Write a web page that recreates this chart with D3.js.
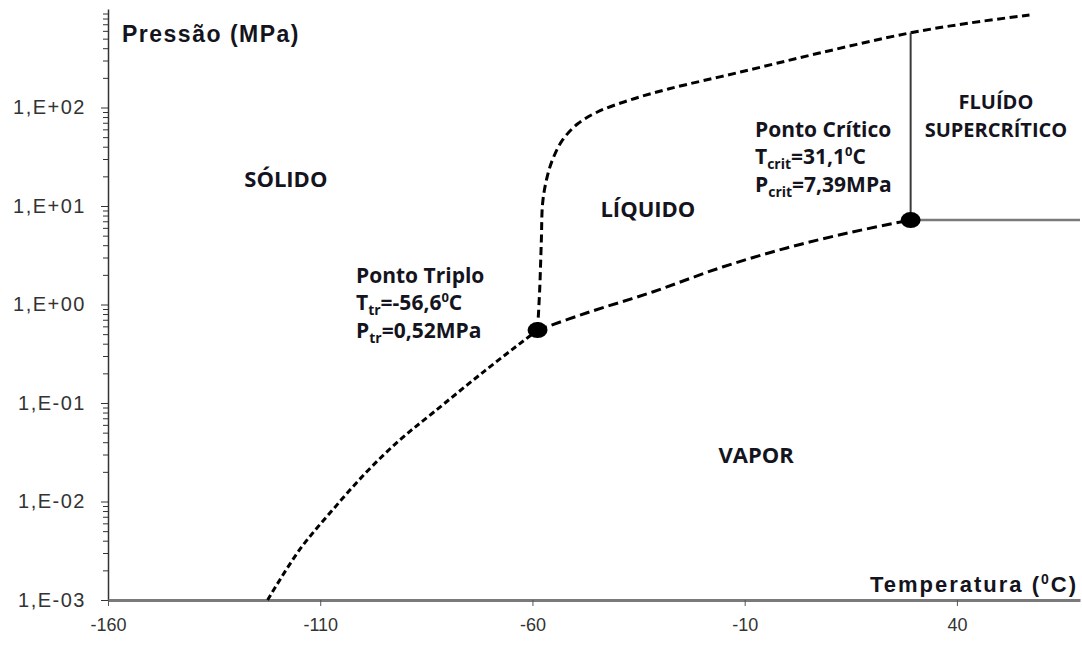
<!DOCTYPE html>
<html>
<head>
<meta charset="utf-8">
<script src="https://cdn.jsdelivr.net/npm/d3@7"></script>
<style>
  html, body { margin: 0; padding: 0; background: #fff; }
  svg { display: block; }
  .axis text { font-family: "Liberation Sans", Arial, sans-serif; fill: #333; }
  .lbl { font-family: "Open Sans", sans-serif; font-weight: 700; fill: #141420; }
</style>
</head>
<body>
<svg id="chart" width="1082" height="646"></svg>
<script>
// Diagrama de fases do CO2

// curva de sublimação (sólido / vapor)
const sublimationT = [-122.4, -114.9, -107.1, -99.1, -91.3, -83.5, -71.3, -58.8];
const sublimationP = [0.001, 0.00322, 0.0082, 0.0199, 0.042, 0.0791, 0.211, 0.55];

// curva de vaporização (líquido / vapor)
const vaporT = [-58.8, -47.3, -31.7, -15.9, -0.1, 15.4, 29.1];
const vaporP = [0.55, 0.82, 1.34, 2.35, 3.75, 5.45, 7.2];

// curva de fusão (sólido / líquido)
const meltT = [-58.8, -58.3, -57.9, -57.6, -56.7, -55.3, -52.9, -49.4, -44.7, -37.1, -28.0, -11.0, 7.6, 28.8, 43.0, 57.1];
const meltP = [0.55, 1.40, 4.52, 10.7, 18.4, 29.3, 46.8, 68.0, 90.0, 119, 154, 229, 357, 570, 721, 869];

// pontos notáveis (posição no gráfico)
const triplePoint = { t: -58.8, p: 0.55 };
const criticalPoint = { t: 29.1, p: 7.2 };
const criticalTop = 575;

const xTicks = [-160, -110, -60, -10, 40];
const yTicks = [1e-3, 1e-2, 1e-1, 1e0, 1e1, 1e2];
const xDomain = [-160, 69];
const yDomain = [1e-3, 1e3];

const regionLabels = [
    { lines: ['SÓLIDO'], t: -118.1, p: 15.6 },
    { lines: ['LÍQUIDO'], t: -32.8, p: 7.73 },
    { lines: ['VAPOR'], t: -7.3, p: 0.0246 },
    { lines: ['FLUÍDO', 'SUPERCRÍTICO'], t: 49.2, p: 97 }
];

const svg = d3.select('#chart');

const x = d3.scaleLinear().domain(xDomain).range([108, 108 + 229 * 4.2445]);
const y = d3.scaleLog().domain(yDomain).range([600, 9]);

// =========================================
// EIXOS
// =========================================

const fmtExp = d => {
    const e = Math.round(Math.log10(d));
    return '1,E' + (e < 0 ? '-' : '+') + String(Math.abs(e)).padStart(2, '0');
};

// ticks menores do eixo log
const minorTicks = [];
for (let e = -3; e < 3; e++) {
    for (let k = 2; k <= 9; k++) minorTicks.push(k * Math.pow(10, e));
}

const yMinorG = svg.append('g').attr('class', 'axis')
    .attr('transform', `translate(${x(-160)},0)`)
    .call(d3.axisLeft(y).tickValues(minorTicks).tickSize(5).tickFormat(''));
yMinorG.select('.domain').remove();
yMinorG.selectAll('.tick line').attr('stroke', '#333').attr('stroke-width', 1);

const yAxisG = svg.append('g').attr('class', 'axis')
    .attr('transform', `translate(${x(-160)},0)`)
    .call(d3.axisLeft(y).tickValues(yTicks).tickSize(7).tickSizeOuter(0).tickPadding(15).tickFormat(fmtExp));
yAxisG.select('.domain').attr('stroke', '#333').attr('stroke-width', 1.5);
yAxisG.selectAll('.tick line').attr('stroke', '#333').attr('stroke-width', 1);
yAxisG.selectAll('.tick text').attr('font-size', 20).attr('letter-spacing', 1.5);

const xAxisG = svg.append('g').attr('class', 'axis')
    .attr('transform', `translate(0,${y(1e-3)})`)
    .call(d3.axisBottom(x).tickValues(xTicks).tickSize(6).tickSizeOuter(0).tickPadding(12)
        .tickFormat(d => String(d)));
xAxisG.select('.domain').attr('stroke', '#7a7a7a').attr('stroke-width', 3);
xAxisG.selectAll('.tick line').attr('stroke', '#555').attr('stroke-width', 1);
xAxisG.selectAll('.tick text').attr('font-size', 18);

// títulos dos eixos
svg.append('text')
    .attr('x', 122).attr('y', 42)
    .attr('font-family', '"Liberation Sans", Arial, sans-serif')
    .attr('font-weight', 700).attr('font-size', 23).attr('letter-spacing', 1.5)
    .attr('fill', '#141420')
    .text('Pressão (MPa)');

const xTitle = svg.append('text')
    .attr('x', 1078).attr('y', 592)
    .attr('text-anchor', 'end')
    .attr('font-family', '"Liberation Sans", Arial, sans-serif')
    .attr('font-weight', 700).attr('font-size', 22).attr('letter-spacing', 2)
    .attr('fill', '#141420');
xTitle.append('tspan').text('Temperatura (');
xTitle.append('tspan').attr('font-size', 14).attr('dy', -8).text('0');
xTitle.append('tspan').attr('dy', 8).text('C)');

// =========================================
// CURVAS
// =========================================

const line = d3.line()
    .x(d => x(d[0]))
    .y(d => y(d[1]))
    .curve(d3.curveCatmullRom.alpha(0.5));

const curves = [
    { pts: d3.zip(sublimationT, sublimationP), dash: '6,3.5' },
    { pts: d3.zip(meltT, meltP), dash: '8,4.5' },
    { pts: d3.zip(vaporT, vaporP), dash: '10,5' }
];

svg.append('g').selectAll('path')
    .data(curves)
    .join('path')
    .attr('d', d => line(d.pts))
    .attr('fill', 'none')
    .attr('stroke', '#000')
    .attr('stroke-width', 3)
    .attr('stroke-dasharray', d => d.dash);

// linhas do fluido supercrítico
svg.append('line')
    .attr('x1', x(criticalPoint.t)).attr('x2', x(criticalPoint.t))
    .attr('y1', y(criticalPoint.p)).attr('y2', y(criticalTop))
    .attr('stroke', '#3a3a3a').attr('stroke-width', 2);
svg.append('line')
    .attr('x1', x(criticalPoint.t)).attr('x2', x(xDomain[1]))
    .attr('y1', y(criticalPoint.p)).attr('y2', y(criticalPoint.p))
    .attr('stroke', '#7a7a7a').attr('stroke-width', 2.5);

// pontos triplo e crítico
svg.append('g').selectAll('ellipse')
    .data([triplePoint, criticalPoint])
    .join('ellipse')
    .attr('cx', d => x(d.t))
    .attr('cy', d => y(d.p))
    .attr('rx', 10).attr('ry', 8)
    .attr('fill', '#000');

// =========================================
// TEXTOS
// =========================================

svg.append('g').selectAll('text')
    .data(regionLabels)
    .join('text')
    .attr('class', 'lbl')
    .attr('font-size', d => d.lines.length > 1 ? 20 : 22)
    .attr('text-anchor', 'middle')
    .attr('x', d => x(d.t))
    .attr('y', d => y(d.p))
    .each(function (d) {
        d.lines.forEach((s, i) => {
            d3.select(this).append('tspan')
                .attr('x', x(d.t))
                .attr('dy', i === 0 ? 0 : 28)
                .text(s);
        });
    });

function annotation(x0, y0, title, sub, tVal, pVal) {
    const g = svg.append('g').attr('class', 'lbl').attr('font-size', 21);
    g.append('text').attr('x', x0).attr('y', y0).text(title);

    const t = g.append('text').attr('x', x0).attr('y', y0 + 27);
    t.append('tspan').text('T');
    t.append('tspan').attr('font-size', 14).attr('dy', 5).text(sub);
    t.append('tspan').attr('dy', -5).text('=' + tVal);
    t.append('tspan').attr('font-size', 13).attr('dy', -8).text('0');
    t.append('tspan').attr('dy', 8).text('C');

    const p = g.append('text').attr('x', x0).attr('y', y0 + 55);
    p.append('tspan').text('P');
    p.append('tspan').attr('font-size', 14).attr('dy', 5).text(sub);
    p.append('tspan').attr('dy', -5).text('=' + pVal);
}

annotation(356, 283, 'Ponto Triplo', 'tr', '-56,6', '0,52MPa');
annotation(755, 137, 'Ponto Crítico', 'crit', '31,1', '7,39MPa');
</script>
</body>
</html>
